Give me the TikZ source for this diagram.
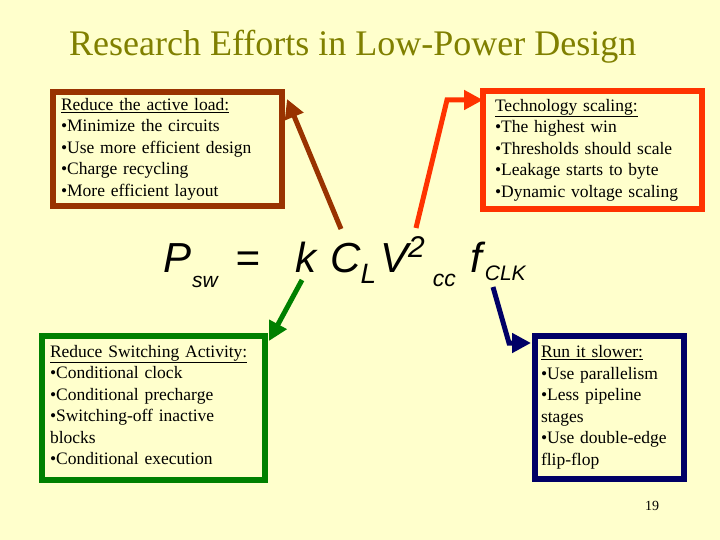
\documentclass[tikz,border=0pt]{standalone}
\usepackage{fontspec}
\setmainfont{Liberation Serif}
\newfontfamily\arialfont{Liberation Sans}
\usetikzlibrary{positioning, arrows.meta}

\definecolor{slidebg}{HTML}{FFFFCC}
\definecolor{titleolive}{HTML}{808000}
\definecolor{loadbrown}{HTML}{993300}
\definecolor{techred}{HTML}{FF3300}
\definecolor{switchgreen}{HTML}{008000}
\definecolor{slownavy}{HTML}{000066}

\newcommand{\formulapart}[3]{\raisebox{#1}{\fontsize{#2}{#2}\selectfont #3}}

\begin{document}
\begin{tikzpicture}[x=1pt, y=-1pt,
  box/.style={draw, rectangle, line width=6pt, anchor=north west, inner ysep=0pt,
    outer sep=0pt, align=left, font=\fontsize{17.5}{21.5}\selectfont},
  pointer/.style={line width=5pt, -{Triangle[length=19pt, width=19pt]}},
  formula/.style={anchor=base west, inner sep=0pt, font=\arialfont\itshape\fontsize{42}{42}\selectfont}]
  \useasboundingbox (0, 0) rectangle (720, 540);
  \fill[slidebg] (0, 0) rectangle (720, 540);

  \node[anchor=base west, inner sep=0pt, text=titleolive, font=\fontsize{36}{36}\selectfont]
    at (69, 56) (title) {Research Efforts in Low-Power Design};

  \node[box, draw=loadbrown, minimum width=229pt, minimum height=114pt, text width=213pt, inner xsep=8pt]
    at (53, 92) (loadbox) {\underline{Reduce the active load:}\\ \textbullet Minimize the circuits\\
    \textbullet Use more efficient design\\ \textbullet Charge recycling\\ \textbullet More efficient layout};

  \node[box, draw=techred, minimum width=219pt, minimum height=118pt, text width=195pt, inner xsep=12pt]
    at (483, 91) (techbox) {\underline{Technology scaling:}\\ \textbullet The highest win\\
    \textbullet Thresholds should scale\\ \textbullet Leakage starts to byte\\ \textbullet Dynamic voltage scaling};

  \node[box, draw=switchgreen, minimum width=223pt, minimum height=144pt, text width=207pt, inner xsep=8pt]
    at (42, 336) (switchbox) {\underline{Reduce Switching Activity:}\\ \textbullet Conditional clock\\
    \textbullet Conditional precharge\\ \textbullet Switching-off inactive\\ blocks\\
    \textbullet Conditional execution\rule[-6pt]{0pt}{6pt}};

  \node[box, draw=slownavy, minimum width=149pt, minimum height=143pt, text width=137pt, inner xsep=6pt]
    at (535, 336) (slowbox) {\underline{Run it slower:}\\ \textbullet Use parallelism\\
    \textbullet Less pipeline\\ stages\\ \textbullet Use double-edge\\ flip-flop};

  \node[formula] at (163, 272) (psw) {P\formulapart{-15pt}{21}{\hspace{1pt}sw}};
  \node[formula] at (235, 272) (eqsign) {=};
  \node[formula] at (295, 272) (kfac) {k};
  \node[formula] at (330, 272) (cload) {C\formulapart{-11pt}{28}{L}};
  \node[formula] at (380, 272) (vcc) {V\formulapart{15pt}{30}{2}\formulapart{-14pt}{23}{\hspace{8pt}cc}};
  \node[formula] at (470, 272) (fclk) {f\formulapart{-8pt}{21}{\hspace{3pt}CLK}};

  \coordinate (loadtail) at (341, 229);
  \coordinate (techtail) at (416, 228);
  \coordinate (techbend) at (447, 100);
  \coordinate (switchtail) at (302, 280);
  \coordinate (slowtail) at (493, 287);
  \coordinate (slowbend) at (509, 343);

  \draw[pointer, loadbrown] (loadtail) -- ([xshift=5pt, yshift=-7pt]loadbox.north east);
  \draw[pointer, techred] (techtail) -- (techbend) -- (techbend -| techbox.west);
  \draw[pointer, switchgreen] (switchtail) -- ([xshift=4pt, yshift=-5pt]switchbox.north east);
  \draw[pointer, slownavy, shorten >=4pt] (slowtail) -- (slowbend) -- (slowbend -| slowbox.west);

  \node[anchor=base west, inner sep=0pt, font=\fontsize{14}{14}\selectfont] at (645, 510) (pagenum) {19};
\end{tikzpicture}
\end{document}
